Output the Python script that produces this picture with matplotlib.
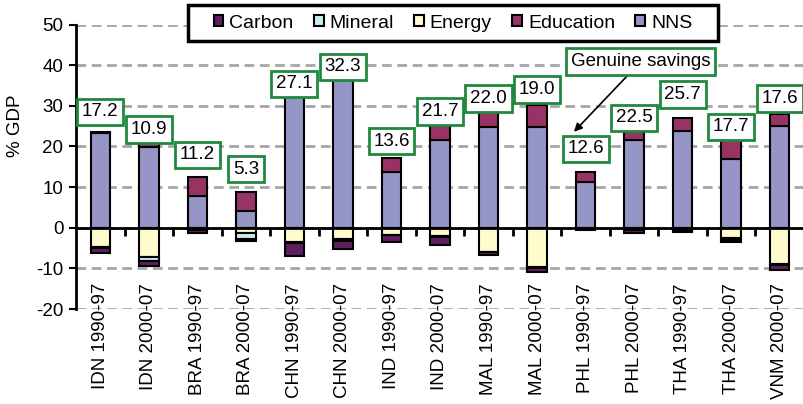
import matplotlib
matplotlib.use("Agg")
import matplotlib.pyplot as plt
import matplotlib.transforms as mtransforms
from matplotlib.patches import Patch, Rectangle
import numpy as np

plt.rcParams['font.family'] = ['Liberation Sans', 'DejaVu Sans']
plt.rcParams['axes.unicode_minus'] = False

# data
periods = ["IDN 1990-97", "IDN 2000-07", "BRA 1990-97", "BRA 2000-07",
           "CHN 1990-97", "CHN 2000-07", "IND 1990-97", "IND 2000-07",
           "MAL 1990-97", "MAL 2000-07", "PHL 1990-97", "PHL 2000-07",
           "THA 1990-97", "THA 2000-07", "VNM 2000-07"]
nns = [23.2, 19.8, 7.8, 4.2, 32.8, 36.3, 13.6, 21.6, 24.7, 24.7, 11.3, 21.7, 23.9, 16.9, 25.1]
education = [0.4, 1.2, 4.8, 4.6, 1.6, 1.7, 3.5, 4.5, 4.4, 5.4, 2.3, 2.4, 3.1, 4.9, 3.0]
energy = [-4.8, -7.3, -0.4, -1.4, -3.6, -2.8, -1.7, -2.0, -5.9, -9.7, -0.2, -0.4, -0.5, -2.6, -9.0]
mineral = [-0.3, -1.0, -0.2, -1.3, -0.2, -0.5, -0.2, -0.4, -0.1, -0.1, -0.1, -0.2, -0.2, -0.3, -0.2]
carbon = [-1.0, -1.2, -0.6, -0.6, -3.2, -2.0, -1.5, -1.8, -0.8, -1.1, -0.3, -0.6, -0.4, -0.7, -1.2]
genuine_savings = [17.2, 10.9, 11.2, 5.3, 27.1, 32.3, 13.6, 21.7, 22.0, 19.0, 12.6, 22.5, 25.7, 17.7, 17.6]

# where the value boxes sit (y, in % GDP)
box_y = [28.5, 24.2, 17.9, 14.4, 35.4, 39.6, 21.3, 28.6, 31.8, 34.0, 19.4, 27.0, 32.8, 24.8, 31.8]

c_carbon = '#5E1F60'
c_mineral = '#CCECF3'
c_energy = '#FFFBCC'
c_edu = '#993366'
c_nns = '#9595C8'
green = '#1F8A3D'
fs = 13.5

fig = plt.figure(figsize=(8.04, 4.04), dpi=100)
ax = fig.add_axes([76 / 804, 95 / 404, 728 / 804, 284.5 / 404])

x = np.arange(len(periods))
w = 0.4
kw = dict(width=w, edgecolor='black', linewidth=1.5, zorder=3)

ax.bar(x, nns, color=c_nns, **kw)
ax.bar(x, education, bottom=nns, color=c_edu, **kw)
ax.bar(x, energy, color=c_energy, **kw)
neg1 = np.array(energy)
ax.bar(x, mineral, bottom=neg1, color=c_mineral, **kw)
neg2 = neg1 + np.array(mineral)
ax.bar(x, carbon, bottom=neg2, color=c_carbon, **kw)

ax.set_xlim(-0.5, len(periods) - 0.5)
ax.set_ylim(-20, 50)
ax.set_yticks(range(-20, 51, 10))
ax.yaxis.grid(True, color='#A6A6A6', linewidth=2, dashes=(3.5, 2))
ax.set_axisbelow(True)

for s in ['top', 'right']:
    ax.spines[s].set_visible(False)
ax.spines['left'].set_linewidth(2)
ax.spines['bottom'].set_position(('data', 0))
ax.spines['bottom'].set_linewidth(2)
ax.spines['bottom'].set_zorder(4)

ax.tick_params(axis='y', direction='out', length=5, width=1.5, labelsize=fs, pad=4)
ax.set_xticks(x)
ax.set_xticklabels([])
ax.tick_params(axis='x', which='major', length=0)
ax.set_xticks(x[:-1] + 0.5, minor=True)
ax.tick_params(axis='x', which='minor', direction='out', length=6, width=2)

trans = mtransforms.blended_transform_factory(ax.transData, ax.transAxes)
for i, name in enumerate(periods):
    ax.text(i, 0.091, name, transform=trans, rotation=90, ha='center', va='top',
            fontsize=fs)

for i, v in enumerate(genuine_savings):
    ax.text(i, box_y[i], f'{v:.1f}', ha='center', va='center', fontsize=fs, zorder=6,
            bbox=dict(boxstyle='square,pad=0.25', fc='white', ec=green, lw=2))

ax.annotate('Genuine savings', xy=(9.76, 23.6), xytext=(11.14, 40.9),
            ha='center', va='center', fontsize=fs, zorder=6,
            bbox=dict(boxstyle='square,pad=0.25', fc='white', ec=green, lw=2),
            arrowprops=dict(arrowstyle='-|>', color='black', lw=1.2, mutation_scale=12,
                            shrinkA=0, shrinkB=0))

fig.text(16 / 804, 1 - 126 / 404, '% GDP', rotation=90, ha='center', va='center',
         fontsize=fs)

# legend frame drawn separately so the side padding matches
fig.patches.append(Rectangle((188 / 804, 1 - 41 / 404), 530 / 804, 36 / 404,
                             transform=fig.transFigure, fc='white', ec='black',
                             lw=2.5, zorder=9))
handles = [Patch(facecolor=c, edgecolor='black', linewidth=1.5)
           for c in [c_carbon, c_mineral, c_energy, c_edu, c_nns]]
leg = fig.legend(handles, ['Carbon', 'Mineral', 'Energy', 'Education', 'NNS'],
                 loc='center', bbox_to_anchor=(453 / 804, 1 - 23 / 404), ncol=5,
                 fontsize=14, frameon=False, handlelength=0.5,
                 handleheight=0.5, handletextpad=0.3, columnspacing=1.05,
                 borderpad=0, borderaxespad=0)
leg.set_zorder(10)

fig.savefig('out.png', dpi=100)
